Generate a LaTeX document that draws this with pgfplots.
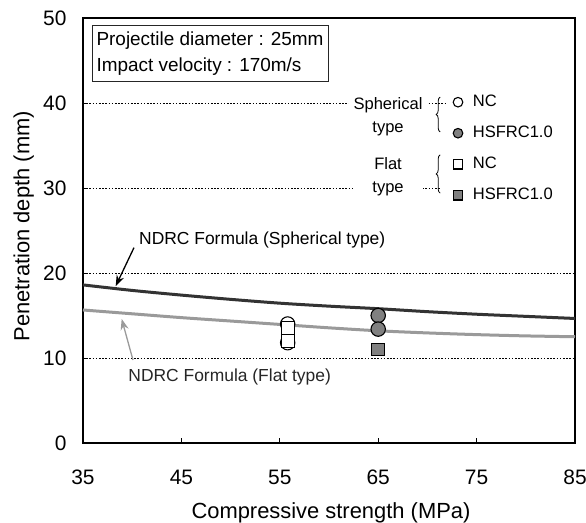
\documentclass[border=0pt]{standalone}
\usepackage{fontspec}
\setmainfont{Liberation Sans}
\usepackage{pgfplots}
\pgfplotsset{compat=1.18}
\usetikzlibrary{decorations.pathreplacing,arrows.meta}
\definecolor{sphcol}{HTML}{333333}
\definecolor{flatcol}{HTML}{9A9A9A}
\definecolor{mgray}{HTML}{808080}
\begin{document}
\begin{tikzpicture}
\begin{axis}[
  scale only axis, width=492bp, height=425bp,
  xmin=35, xmax=85, ymin=0, ymax=50,
  xtick={35,45,55,65,75,85}, ytick={0,10,20,30,40,50},
  axis line style={line width=2.8bp},
  tick style={black, line width=0.8bp},
  major tick length=5bp,
  tick align=inside,
  xtick pos=bottom, ytick pos=left,
  /pgf/number format/assume math mode=true,
  ticklabel style={font=\fontsize{21}{24}\selectfont},
  xticklabel style={anchor=base, yshift=-41bp},
  yticklabel style={xshift=-13bp},
  xlabel={Compressive strength (MPa)},
  ylabel={Penetration depth (mm)},
  label style={font=\fontsize{22}{26}\selectfont},
  xlabel style={at={(axis description cs:0.504,-0.177)}, anchor=base},
  ylabel style={at={(axis description cs:-0.109,0.51)}, anchor=base},
  legend style={at={(axis description cs:0.748,0.8247)}, anchor=north west,
    draw=none, fill=white, inner sep=2bp,
    font=\fontsize{16.6}{19}\selectfont,
    row sep=16bp, column sep=10bp,
    nodes={inner sep=0pt, text height=12bp, text depth=3bp}},
  legend cell align=left,
  legend image code/.code={\draw[#1] plot coordinates {(5bp,0bp)};},
  legend image post style={mark size=4.8bp},
]
% grid lines
\draw[black, line width=0.7bp, dash pattern=on 1.6bp off 1.6bp] (35,10) -- (85,10);
\draw[black, line width=0.7bp, dash pattern=on 1.6bp off 1.6bp] (35,20) -- (85,20);
\draw[black, line width=0.7bp, dash pattern=on 1.6bp off 1.6bp] (35,30) -- (71.3,30);
\draw[black, line width=0.7bp, dash pattern=on 1.6bp off 1.6bp] (35,40) -- (72.0,40);
% NDRC curves
\addplot[forget plot, sphcol, line width=3bp, smooth] coordinates {
 (35,18.6)(40,17.95)(45,17.4)(50,16.9)(55,16.45)(60,16.1)(65,15.8)(70,15.45)(75,15.15)(80,14.9)(85,14.65)};
\addplot[forget plot, flatcol, line width=3bp, smooth] coordinates {
 (35,15.65)(40,15.2)(45,14.75)(50,14.35)(55,13.95)(60,13.55)(65,13.2)(70,12.95)(75,12.75)(80,12.6)(85,12.5)};
% data
\addplot[only marks, mark=*, mark size=7.2bp, mark options={fill=white, draw=black, line width=1.1bp}] coordinates {(55.8,14.0)(55.8,11.8)};
\addlegendentry{NC}
\addplot[only marks, mark=*, mark size=7.2bp, mark options={fill=mgray, draw=black, line width=1.1bp}] coordinates {(65,15.0)(65,13.4)};
\addlegendentry{HSFRC1.0}
\addplot[only marks, mark=square*, mark size=6.5bp, mark options={fill=white, draw=black, line width=1.1bp}] coordinates {(55.8,13.5)(55.8,12.0)};
\addlegendentry{NC}
\addplot[only marks, mark=square*, mark size=6.3bp, mark options={fill=mgray, draw=black, line width=1.1bp}] coordinates {(65,11.0)};
\addlegendentry{HSFRC1.0}
% legend group labels
\node[fill=white, inner xsep=0pt, inner ysep=1bp, text width=78bp, align=center,
  font=\fontsize{16.6}{23}\selectfont] at (66.0,38.4) {Spherical\\type};
\node[fill=white, inner xsep=0pt, inner ysep=1bp, text width=70bp, align=center,
  font=\fontsize{16.6}{23}\selectfont] at (66.0,31.35) {Flat\\type};
\draw[black, line width=0.8bp, decorate, decoration={brace, amplitude=4bp}] (71.3,36.6) -- (71.3,40.7);
\draw[black, line width=0.8bp, decorate, decoration={brace, amplitude=4bp}] (71.3,29.4) -- (71.3,33.9);
% info box
\node[anchor=north west, draw=black!85, line width=0.8bp, fill=white,
  align=left, inner xsep=4.5bp, inner ysep=6.5bp, font=\fontsize{19}{26}\selectfont]
  at (35.88,49.2) {Projectile diameter : 25mm\\Impact velocity : 170m/s};
% annotations
\node[anchor=west, inner sep=0pt, font=\fontsize{17.5}{20}\selectfont] at (40.69,23.9) {NDRC Formula (Spherical type)};
\draw[black, line width=1.3bp, -{Stealth[length=11bp, width=8bp]}] (40.18,22.98) -- (38.32,18.45);
\node[anchor=west, inner sep=0pt, font=\fontsize{17.5}{20}\selectfont, text=black!85] at (39.6,7.8) {NDRC Formula (Flat type)};
\draw[flatcol, line width=1.3bp, -{Stealth[length=11bp, width=8bp]}] (40.08,9.76) -- (38.93,14.6);
\end{axis}
\pgfresetboundingbox
\path ([shift={(-83bp,-80bp)}]current axis.south west) rectangle ([shift={(11bp,18bp)}]current axis.north east);
\end{tikzpicture}
\end{document}
